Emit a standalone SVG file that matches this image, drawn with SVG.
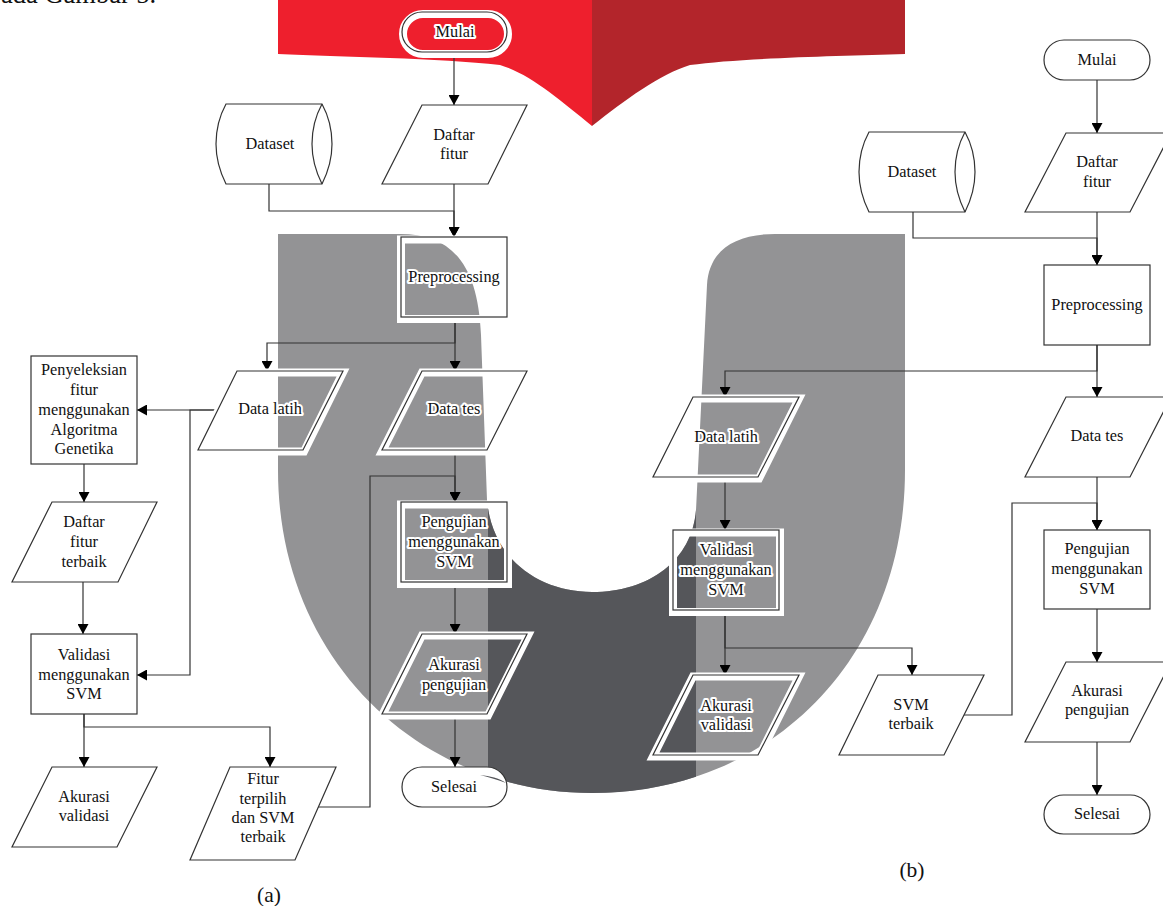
<svg xmlns="http://www.w3.org/2000/svg" width="1163" height="906" viewBox="0 0 1163 906">
<defs>
<style>
text{font-family:"Liberation Serif","Times New Roman",serif;font-size:16.300px;fill:#111;text-anchor:middle}
.n{fill:#fff;stroke:#333;stroke-width:1.2}
.h{fill:none;stroke:#333;stroke-width:1.2}
.halo{fill:none;stroke:#fff;stroke-width:8}
.t{paint-order:stroke;stroke:#fff;stroke-width:4px;stroke-linejoin:round}
.c{fill:none;stroke:#333;stroke-width:1.2}
.cap{font-size:21.500px}
</style>
<marker id="a" markerWidth="11" markerHeight="11" refX="10" refY="5.500" orient="auto" markerUnits="userSpaceOnUse"><path d="M0 0L10 5.500L0 11Z" fill="#000"/></marker>
<clipPath id="dk"><rect x="488" y="400" width="208" height="500"/></clipPath>
<path id="u" d="M278 234H400C450 234 478 262 481 335L487 500C492 560 540 592 592 592C650 592 692 560 696 510L707 285C709 250 735 234 775 234H905V470C905 660 770 793 592 793C420 793 278 660 278 470Z"/>
</defs>
<g id="background">
<use href="#u" fill="#939395"/>
<use href="#u" fill="#55565a" clip-path="url(#dk)"/>
<path d="M278 0H592V126C560 100 530 74 500 65C440 58 340 57 278 54Z" fill="#ee1f2d"/>
<path d="M592 0H905V54C840 56 740 58 690 65C660 74 625 100 592 126Z" fill="#b3252b"/>
</g>
<text x="1" y="3" style="font-size:26.500px;text-anchor:start">ada Gambar 5.</text>
<g id="connectors">
<path class="c" marker-end="url(#a)" d="M454 52V105"/>
<path class="c" marker-end="url(#a)" d="M454 184V237"/>
<path class="c" marker-end="url(#a)" d="M269 184V211H454V237"/>
<path class="c" marker-end="url(#a)" d="M455 317V371"/>
<path class="c" marker-end="url(#a)" d="M455 317V343H267V371"/>
<path class="c" marker-end="url(#a)" d="M218 410H137"/>
<path class="c" marker-end="url(#a)" d="M218 410H190V675H137"/>
<path class="c" marker-end="url(#a)" d="M84 464V502"/>
<path class="c" marker-end="url(#a)" d="M83 582V634"/>
<path class="c" marker-end="url(#a)" d="M84 714V767"/>
<path class="c" marker-end="url(#a)" d="M84 714V727H270V767"/>
<path class="c" marker-end="url(#a)" d="M455 450V502"/>
<path class="c" marker-end="url(#a)" d="M295 807H370V476H455V502"/>
<path class="c" marker-end="url(#a)" d="M455 582V634"/>
<path class="c" marker-end="url(#a)" d="M455 714V767"/>
<path class="c" marker-end="url(#a)" d="M1097 80V133"/>
<path class="c" marker-end="url(#a)" d="M1097 212V265"/>
<path class="c" marker-end="url(#a)" d="M913 212V238H1097V265"/>
<path class="c" marker-end="url(#a)" d="M1097 345V397"/>
<path class="c" marker-end="url(#a)" d="M1097 345V371H725V397"/>
<path class="c" marker-end="url(#a)" d="M725 477V530"/>
<path class="c" marker-end="url(#a)" d="M725 610V675"/>
<path class="c" marker-end="url(#a)" d="M725 610V648H912V675"/>
<path class="c" marker-end="url(#a)" d="M1097 477V530"/>
<path class="c" marker-end="url(#a)" d="M964 715H1012V503H1097V530"/>
<path class="c" marker-end="url(#a)" d="M1097 609V662"/>
<path class="c" marker-end="url(#a)" d="M1097 742V795"/>
</g>
<g id="a-mulai"><rect class="halo" x="403" y="14" width="105" height="40" rx="20"/><rect class="h" x="402" y="12" width="105" height="40" rx="20"/><text class="t" x="455" y="37">Mulai</text></g>
<g id="a-dataset"><path class="n" d="M226 104H322C328 115 332 128 332 144C332 160 328 172 322 184H226C220 172 216 160 216 144C216 128 220 115 226 104Z"/><path class="h" d="M322 104C316 115 312 128 312 144C312 160 316 172 322 184"/><text x="270" y="149">Dataset</text></g>
<g id="a-daftar"><path class="n" d="M422 105H527L488 184H382Z"/><text x="454" y="140">Daftar</text><text x="454" y="159">fitur</text></g>
<g id="a-prep"><rect class="halo" x="401" y="239.500" width="107" height="79.500"/><rect class="h" x="401" y="237" width="106" height="80"/><text class="t" x="454" y="282">Preprocessing</text></g>
<g id="a-latih"><path class="halo" d="M237 372.500H343L304 451.500H198Z"/><path class="h" d="M237 371H343L303 450H198Z"/><text class="t" x="270" y="414">Data latih</text></g>
<g id="a-tes"><path class="halo" d="M422 372.500H528L488 451.500H382Z"/><path class="h" d="M422 371H527L487 450H382Z"/><text class="t" x="454" y="414">Data tes</text></g>
<g id="a-seleksi"><rect class="n" x="31" y="356" width="106" height="108"/><text x="84" y="375">Penyeleksian</text><text x="84" y="395">fitur</text><text x="84" y="415">menggunakan</text><text x="84" y="435">Algoritma</text><text x="84" y="454">Genetika</text></g>
<g id="a-terbaik"><path class="n" d="M52 502H157L118 582H12Z"/><text x="84" y="527">Daftar</text><text x="84" y="547">fitur</text><text x="84" y="567">terbaik</text></g>
<g id="a-validasi"><rect class="n" x="31" y="634" width="106" height="80"/><text x="84" y="660">Validasi</text><text x="84" y="680">menggunakan</text><text x="84" y="699">SVM</text></g>
<g id="a-akval"><path class="n" d="M52 767H157L117 847H12Z"/><text x="84" y="802">Akurasi</text><text x="84" y="821">validasi</text></g>
<g id="a-fitur"><path class="n" d="M230 767H336L295 860H190Z"/><text x="263" y="784">Fitur</text><text x="263" y="804">terpilih</text><text x="263" y="823">dan SVM</text><text x="263" y="842">terbaik</text></g>
<g id="a-uji"><rect class="halo" x="401" y="504.500" width="107" height="79.500"/><rect class="h" x="401" y="502" width="106" height="80"/><text class="t" x="454" y="527">Pengujian</text><text class="t" x="454" y="547">menggunakan</text><text class="t" x="454" y="567">SVM</text></g>
<g id="a-akuji"><path class="halo" d="M422 635.500H528L488 715.500H382Z"/><path class="h" d="M422 634H527L487 714H382Z"/><text class="t" x="454" y="670">Akurasi</text><text class="t" x="454" y="690">pengujian</text></g>
<g id="a-selesai"><rect class="n" x="402" y="767" width="105" height="40" rx="20"/><path d="M480 775C490 776 499 778 506 783C498 780 489 777 480 775Z" fill="#55565a"/><text x="454" y="792">Selesai</text></g>
<text class="cap" x="269" y="902">(a)</text>
<g id="b-mulai"><rect class="n" x="1044" y="40" width="106" height="40" rx="20"/><text x="1097" y="65">Mulai</text></g>
<g id="b-dataset"><path class="n" d="M869 132H965C971 143 975 156 975 172C975 188 971 200 965 212H869C863 200 859 188 859 172C859 156 863 143 869 132Z"/><path class="h" d="M965 132C959 143 955 156 955 172C955 188 959 200 965 212"/><text x="912" y="177">Dataset</text></g>
<g id="b-daftar"><path class="n" d="M1066 133H1171L1130 212H1025Z"/><text x="1097" y="167">Daftar</text><text x="1097" y="187">fitur</text></g>
<g id="b-prep"><rect class="n" x="1044" y="265" width="106" height="80"/><text x="1097" y="310">Preprocessing</text></g>
<g id="b-latih"><path class="halo" d="M693 398.500H799L759 478.500H653Z"/><path class="h" d="M693 397H799L758 477H653Z"/><text class="t" x="726" y="442">Data latih</text></g>
<g id="b-tes"><path class="n" d="M1066 397H1171L1130 477H1025Z"/><text x="1097" y="441">Data tes</text></g>
<g id="b-validasi"><rect class="halo" x="673" y="532.500" width="107" height="79.500"/><rect class="h" x="673" y="530" width="106" height="80"/><text class="t" x="726" y="555">Validasi</text><text class="t" x="726" y="575">menggunakan</text><text class="t" x="726" y="595">SVM</text></g>
<g id="b-akval"><path class="halo" d="M693 676.500H799L759 756.500H653Z"/><path class="h" d="M693 675H799L758 755H653Z"/><text class="t" x="726" y="711">Akurasi</text><text class="t" x="726" y="730">validasi</text></g>
<g id="b-svm"><path class="n" d="M878 675H984L944 755H839Z"/><text x="911" y="710">SVM</text><text x="911" y="729">terbaik</text></g>
<g id="b-uji"><rect class="n" x="1044" y="530" width="106" height="79"/><text x="1097" y="554">Pengujian</text><text x="1097" y="574">menggunakan</text><text x="1097" y="594">SVM</text></g>
<g id="b-akuji"><path class="n" d="M1066 662H1171L1130 742H1025Z"/><text x="1097" y="696">Akurasi</text><text x="1097" y="715">pengujian</text></g>
<g id="b-selesai"><rect class="n" x="1044" y="795" width="106" height="39" rx="19.500"/><text x="1097" y="819">Selesai</text></g>
<text class="cap" x="912" y="877">(b)</text>
</svg>
